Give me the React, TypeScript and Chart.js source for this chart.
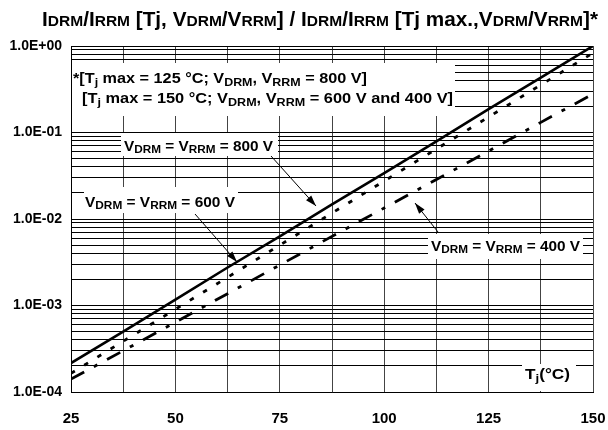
import { useEffect, useRef } from 'react';
import { Chart, registerables } from 'chart.js';

Chart.register(...registerables);

// ---- data ----
const temps = [25, 37.5, 50, 62.5, 75, 87.5, 100, 112.5, 125, 137.5, 150];
const v800 = [2.16e-4, 5.0e-4, 1.17e-3, 2.75e-3, 6.3e-3, 1.48e-2, 3.4e-2, 7.9e-2, 0.186, 0.43, 1.0];
const v600 = [1.64e-4, 3.86e-4, 9.05e-4, 2.12e-3, 4.99e-3, 1.17e-2, 2.75e-2, 6.44e-2, 0.151, 0.355, 0.83];
const v400 = [1.41e-4, 3.0e-4, 6.4e-4, 1.37e-3, 2.94e-3, 6.3e-3, 1.34e-2, 2.86e-2, 6.1e-2, 0.131, 0.279];
const xTickLabels = [25, 50, 75, 100, 125, 150];
const yTickLabels = ['1.0E-04', '1.0E-03', '1.0E-02', '1.0E-01', '1.0E+00'];
const yDecades = [-4, -3, -2, -1, 0];

const FONT = "'Liberation Sans', Arial, sans-serif";

type Seg = [string, 'n' | 's' | 'c'];

const titleSegs: Seg[] = [
  ['I', 'n'], ['DRM', 'c'], ['/I', 'n'], ['RRM', 'c'], [' [Tj, V', 'n'], ['DRM', 'c'], ['/V', 'n'], ['RRM', 'c'],
  ['] / I', 'n'], ['DRM', 'c'], ['/I', 'n'], ['RRM', 'c'], [' [Tj max.,V', 'n'], ['DRM', 'c'], ['/V', 'n'], ['RRM', 'c'], [']*', 'n'],
];
const note1: Seg[] = [['*[T', 'n'], ['j', 's'], [' max = 125 °C; V', 'n'], ['DRM', 's'], [', V', 'n'], ['RRM', 's'], [' = 800 V]', 'n']];
const note2: Seg[] = [['[T', 'n'], ['j', 's'], [' max = 150 °C; V', 'n'], ['DRM', 's'], [', V', 'n'], ['RRM', 's'], [' = 600 V and 400 V]', 'n']];
const lab = (v: string): Seg[] => [['V', 'n'], ['DRM', 's'], [' = V', 'n'], ['RRM', 's'], [' = ' + v + ' V', 'n']];
const axisLab: Seg[] = [['T', 'n'], ['j', 's'], ['(°C)', 'n']];

function measureRich(ctx: CanvasRenderingContext2D, segs: Seg[], big: number, small: number) {
  let w = 0;
  for (const [t, k] of segs) {
    ctx.font = `bold ${k === 'n' ? big : small}px ${FONT}`;
    w += ctx.measureText(t).width;
  }
  return w;
}

function drawRich(ctx: CanvasRenderingContext2D, x: number, y: number, segs: Seg[], big: number, small: number, subDy: number, targetW?: number) {
  const w = measureRich(ctx, segs, big, small);
  const sx = targetW ? targetW / w : 1;
  ctx.save();
  ctx.translate(x, y);
  ctx.scale(sx, 1);
  ctx.fillStyle = '#000';
  ctx.textBaseline = 'alphabetic';
  ctx.textAlign = 'left';
  let cx = 0;
  for (const [t, k] of segs) {
    ctx.font = `bold ${k === 'n' ? big : small}px ${FONT}`;
    ctx.fillText(t, cx, k === 's' ? subDy : 0);
    cx += ctx.measureText(t).width;
  }
  ctx.restore();
}

function arrow(ctx: CanvasRenderingContext2D, x1: number, y1: number, x2: number, y2: number) {
  ctx.save();
  ctx.strokeStyle = '#000';
  ctx.fillStyle = '#000';
  ctx.lineWidth = 1;
  ctx.beginPath();
  ctx.moveTo(x1, y1);
  ctx.lineTo(x2, y2);
  ctx.stroke();
  const a = Math.atan2(y2 - y1, x2 - x1);
  const L = 11, W = 3.5;
  ctx.beginPath();
  ctx.moveTo(x2, y2);
  ctx.lineTo(x2 - L * Math.cos(a) + W * Math.sin(a), y2 - L * Math.sin(a) - W * Math.cos(a));
  ctx.lineTo(x2 - L * Math.cos(a) - W * Math.sin(a), y2 - L * Math.sin(a) + W * Math.cos(a));
  ctx.closePath();
  ctx.fill();
  ctx.restore();
}

const annotations = {
  id: 'annotations',
  beforeDatasetsDraw(chart: any) {
    const ctx: CanvasRenderingContext2D = chart.ctx;
    ctx.save();
    ctx.fillStyle = '#fff';
    ctx.fillRect(72, 63, 383, 53);
    ctx.fillRect(121, 133, 157, 23);
    ctx.fillRect(84, 187, 154, 26);
    ctx.fillRect(428, 234, 155, 25);
    ctx.fillRect(522, 364, 54, 27);
    ctx.restore();
    drawRich(ctx, 73, 83, note1, 15, 11.5, 2.5, 294);
    drawRich(ctx, 82, 103, note2, 15, 11.5, 2.5, 371);
    drawRich(ctx, 124, 151, lab('800'), 15, 11.5, 2, 149);
    drawRich(ctx, 85, 207, lab('600'), 15, 11.5, 2, 150);
    drawRich(ctx, 431, 251, lab('400'), 15, 11.5, 2, 149);
    drawRich(ctx, 525, 379, axisLab, 15, 11.5, 2.5, 45);
    arrow(ctx, 271, 156, 316, 206);
    arrow(ctx, 195, 214, 237, 262);
    arrow(ctx, 438, 232, 415, 203);
  },
  afterDraw(chart: any) {
    const ctx: CanvasRenderingContext2D = chart.ctx;
    drawRich(ctx, 42, 26, titleSegs, 20, 15, 0, 556);
  },
};

export default function App() {
  const ref = useRef<HTMLCanvasElement>(null);
  useEffect(() => {
    document.body.style.margin = '0';
    const mk = (vals: number[]) => temps.map((t, i) => ({ x: t, y: vals[i] }));
    const chart = new Chart(ref.current!, {
      type: 'line',
      data: {
        datasets: [
          { label: 'VDRM = VRRM = 400 V', data: mk(v400), borderColor: '#000', borderWidth: 2.8, borderDash: [15, 11, 4, 11], pointRadius: 0, tension: 0, fill: false },
          { label: 'VDRM = VRRM = 600 V', data: mk(v600), borderColor: '#000', borderWidth: 2.8, borderDash: [4.5, 11], pointRadius: 0, tension: 0, fill: false },
          { label: 'VDRM = VRRM = 800 V', data: mk(v800), borderColor: '#000', borderWidth: 2.6, pointRadius: 0, tension: 0, fill: false },
        ],
      },
      options: {
        animation: false,
        responsive: false,
        devicePixelRatio: 1,
        layout: { padding: { top: 46, right: 15, left: 0, bottom: 0 } },
        plugins: { legend: { display: false }, title: { display: false }, tooltip: { enabled: false } },
        scales: {
          x: {
            type: 'linear',
            min: 25,
            max: 150,
            ticks: {
              stepSize: 12.5,
              autoSkip: false,
              maxRotation: 0,
              padding: 18,
              color: '#000',
              font: { family: FONT, size: 15, weight: 'bold' },
              callback: (v: any) => (xTickLabels.includes(Number(v)) ? String(v) : ''),
            },
            grid: { color: '#444', lineWidth: 1, drawTicks: false },
            border: { color: '#000' },
            afterFit: (s: any) => { s.height = 38; s.paddingLeft = 0; s.paddingRight = 0; },
          },
          y: {
            type: 'logarithmic',
            min: 1e-4,
            max: 1,
            afterBuildTicks: (s: any) => {
              const t: { value: number }[] = [];
              for (const e of yDecades) {
                if (e === 0) { t.push({ value: 1 }); break; }
                for (let m = 1; m <= 9; m++) t.push({ value: Number((m * Math.pow(10, e)).toPrecision(3)) });
              }
              s.ticks = t;
            },
            ticks: {
              autoSkip: false,
              padding: 9,
              color: '#000',
              font: { family: FONT, size: 14, weight: 'bold' },
              callback: (v: any) => {
                const e = Math.round(Math.log10(Number(v)));
                if (Math.abs(Number(v) - Math.pow(10, e)) / Number(v) < 1e-6) {
                  const i = yDecades.indexOf(e);
                  return i >= 0 ? yTickLabels[i] : '';
                }
                return '';
              },
            },
            grid: { color: '#000', lineWidth: 1, drawTicks: false },
            border: { color: '#000' },
            afterFit: (s: any) => { s.width = 71; s.paddingTop = 0; s.paddingBottom = 0; },
          },
        },
      },
      plugins: [annotations],
    } as any);
    return () => chart.destroy();
  }, []);
  return (
    <div style={{ width: 608, height: 430, position: 'relative' }}>
      <canvas ref={ref} width={608} height={430} style={{ display: 'block', width: 608, height: 430 }} />
    </div>
  );
}
